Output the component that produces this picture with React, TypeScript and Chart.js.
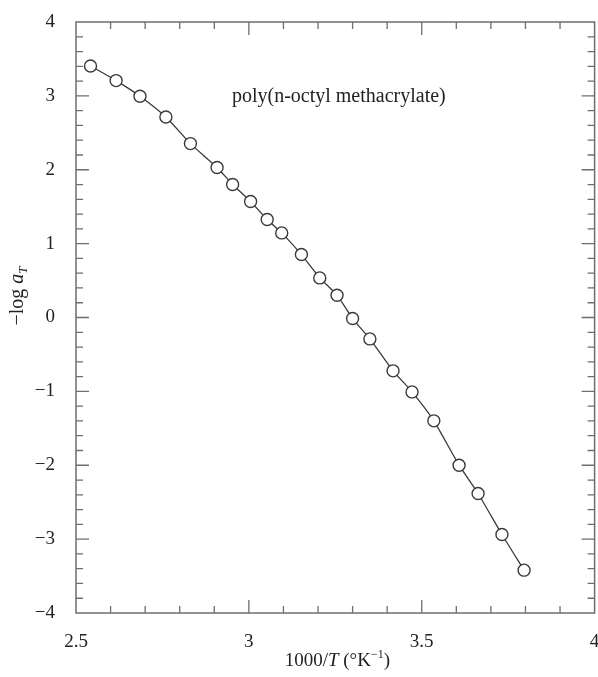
import { useEffect, useRef } from 'react';
import { Chart, registerables } from 'chart.js';

Chart.register(...registerables);

// ---- data ----
const X_VALUES = [2.542, 2.616, 2.685, 2.76, 2.831, 2.908, 2.953, 3.005, 3.053, 3.095, 3.152, 3.205, 3.255, 3.3, 3.35, 3.417, 3.472, 3.535, 3.608, 3.663, 3.732, 3.796];
const Y_VALUES = [3.405, 3.207, 2.995, 2.714, 2.354, 2.03, 1.8, 1.57, 1.326, 1.145, 0.852, 0.536, 0.302, -0.014, -0.29, -0.722, -1.007, -1.399, -1.999, -2.382, -2.937, -3.42];
const X_MIN = 2.5;
const X_MAX = 4;
const X_STEP = 0.5;
const X_MINOR = 0.1;
const Y_MIN = -4;
const Y_MAX = 4;
const Y_STEP = 1;
const Y_MINOR = 0.2;
const ANNOTATION_TEXT = 'poly(n-octyl methacrylate)';
const ANNOTATION_POS = { x: 2.951, y: 2.92 };

const FONT = "'Liberation Serif', 'Times New Roman', serif";
const TEXT_COLOR = '#222';
const FRAME_COLOR = '#6e6e6e';

type Seg = { t: string; italic?: boolean; size: number; dy?: number };

function drawSegs(ctx: CanvasRenderingContext2D, segs: Seg[], cx: number, baseY: number) {
  let total = 0;
  for (const s of segs) {
    ctx.font = `${s.italic ? 'italic ' : ''}${s.size}px ${FONT}`;
    total += ctx.measureText(s.t).width;
  }
  let x = cx - total / 2;
  for (const s of segs) {
    ctx.font = `${s.italic ? 'italic ' : ''}${s.size}px ${FONT}`;
    ctx.fillText(s.t, x, baseY + (s.dy || 0));
    x += ctx.measureText(s.t).width;
  }
}

const fmt = (v: any) => String(Number(v)).replace('-', '−');

const framePlugin = {
  id: 'frameTicks',
  beforeDatasetsDraw(chart: any) {
    const { ctx, chartArea: a, scales } = chart;
    const xs = scales.x;
    const ys = scales.y;
    ctx.save();
    ctx.strokeStyle = FRAME_COLOR;
    ctx.lineWidth = 1.5;
    ctx.strokeRect(a.left, a.top, a.right - a.left, a.bottom - a.top);
    ctx.lineWidth = 1.3;
    const nx = Math.round((X_MAX - X_MIN) / X_MINOR);
    const perMajX = Math.round(X_STEP / X_MINOR);
    for (let i = 1; i < nx; i++) {
      const px = xs.getPixelForValue(X_MIN + i * X_MINOR);
      const len = i % perMajX === 0 ? 13 : 7;
      ctx.beginPath();
      ctx.moveTo(px, a.bottom);
      ctx.lineTo(px, a.bottom - len);
      ctx.moveTo(px, a.top);
      ctx.lineTo(px, a.top + len);
      ctx.stroke();
    }
    const ny = Math.round((Y_MAX - Y_MIN) / Y_MINOR);
    const perMajY = Math.round(Y_STEP / Y_MINOR);
    for (let i = 1; i < ny; i++) {
      const py = ys.getPixelForValue(Y_MIN + i * Y_MINOR);
      const len = i % perMajY === 0 ? 13 : 7;
      ctx.beginPath();
      ctx.moveTo(a.left, py);
      ctx.lineTo(a.left + len, py);
      ctx.moveTo(a.right, py);
      ctx.lineTo(a.right - len, py);
      ctx.stroke();
    }
    ctx.restore();
  },
  afterDraw(chart: any) {
    const { ctx, chartArea: a, scales } = chart;
    ctx.save();
    ctx.fillStyle = TEXT_COLOR;
    ctx.textBaseline = 'alphabetic';
    ctx.textAlign = 'left';
    // annotation
    ctx.font = `20px ${FONT}`;
    ctx.fillText(
      ANNOTATION_TEXT,
      scales.x.getPixelForValue(ANNOTATION_POS.x),
      scales.y.getPixelForValue(ANNOTATION_POS.y)
    );
    // x title
    const cx = (a.left + a.right) / 2 + 2;
    drawSegs(
      ctx,
      [
        { t: '1000/', size: 19 },
        { t: 'T', italic: true, size: 19 },
        { t: ' (°K', size: 19 },
        { t: '−1', size: 12, dy: -8 },
        { t: ')', size: 19 },
      ],
      cx,
      666
    );
    // y title (rotated)
    ctx.translate(23, 296);
    ctx.rotate(-Math.PI / 2);
    drawSegs(
      ctx,
      [
        { t: '−log ', size: 20 },
        { t: 'a', italic: true, size: 20 },
        { t: 'T', italic: true, size: 13, dy: 4 },
      ],
      0,
      0
    );
    ctx.restore();
  },
};

export default function App() {
  const ref = useRef<HTMLCanvasElement | null>(null);
  useEffect(() => {
    if (!ref.current) return;
    const data = X_VALUES.map((x, i) => ({ x, y: Y_VALUES[i] }));
    const chart = new Chart(ref.current, {
      type: 'scatter',
      data: {
        datasets: [
          {
            data,
            showLine: true,
            borderColor: '#3a3a3a',
            borderWidth: 1.3,
            tension: 0.2,
            pointRadius: 6,
            pointBorderWidth: 1.4,
            pointBackgroundColor: '#ffffff',
            pointBorderColor: '#3a3a3a',
          },
        ],
      },
      options: {
        animation: false,
        responsive: false,
        layout: { padding: { left: 0, top: 22, right: 0, bottom: 0 } },
        plugins: { legend: { display: false }, tooltip: { enabled: false } },
        scales: {
          x: {
            type: 'linear',
            min: X_MIN,
            max: X_MAX,
            grid: { display: false },
            border: { display: false },
            ticks: {
              stepSize: X_STEP,
              color: TEXT_COLOR,
              font: { family: FONT, size: 19 },
              padding: 10,
              maxRotation: 0,
              callback: fmt,
            },
            afterFit: (s: any) => {
              s.height = 64;
              s.paddingLeft = 0;
              s.paddingRight = 0;
            },
          },
          y: {
            type: 'linear',
            min: Y_MIN,
            max: Y_MAX,
            grid: { display: false },
            border: { display: false },
            ticks: {
              stepSize: Y_STEP,
              color: TEXT_COLOR,
              font: { family: FONT, size: 19 },
              padding: 13,
              callback: fmt,
            },
            afterFit: (s: any) => {
              s.width = 76;
              s.paddingTop = 0;
              s.paddingBottom = 0;
            },
          },
        },
      },
      plugins: [framePlugin],
    });
    return () => chart.destroy();
  }, []);
  return (
    <div style={{ position: 'fixed', left: 0, top: 0, width: 598, height: 677, overflow: 'hidden', background: '#fff' }}>
      <canvas ref={ref} width={602} height={677} style={{ display: 'block' }} />
    </div>
  );
}
